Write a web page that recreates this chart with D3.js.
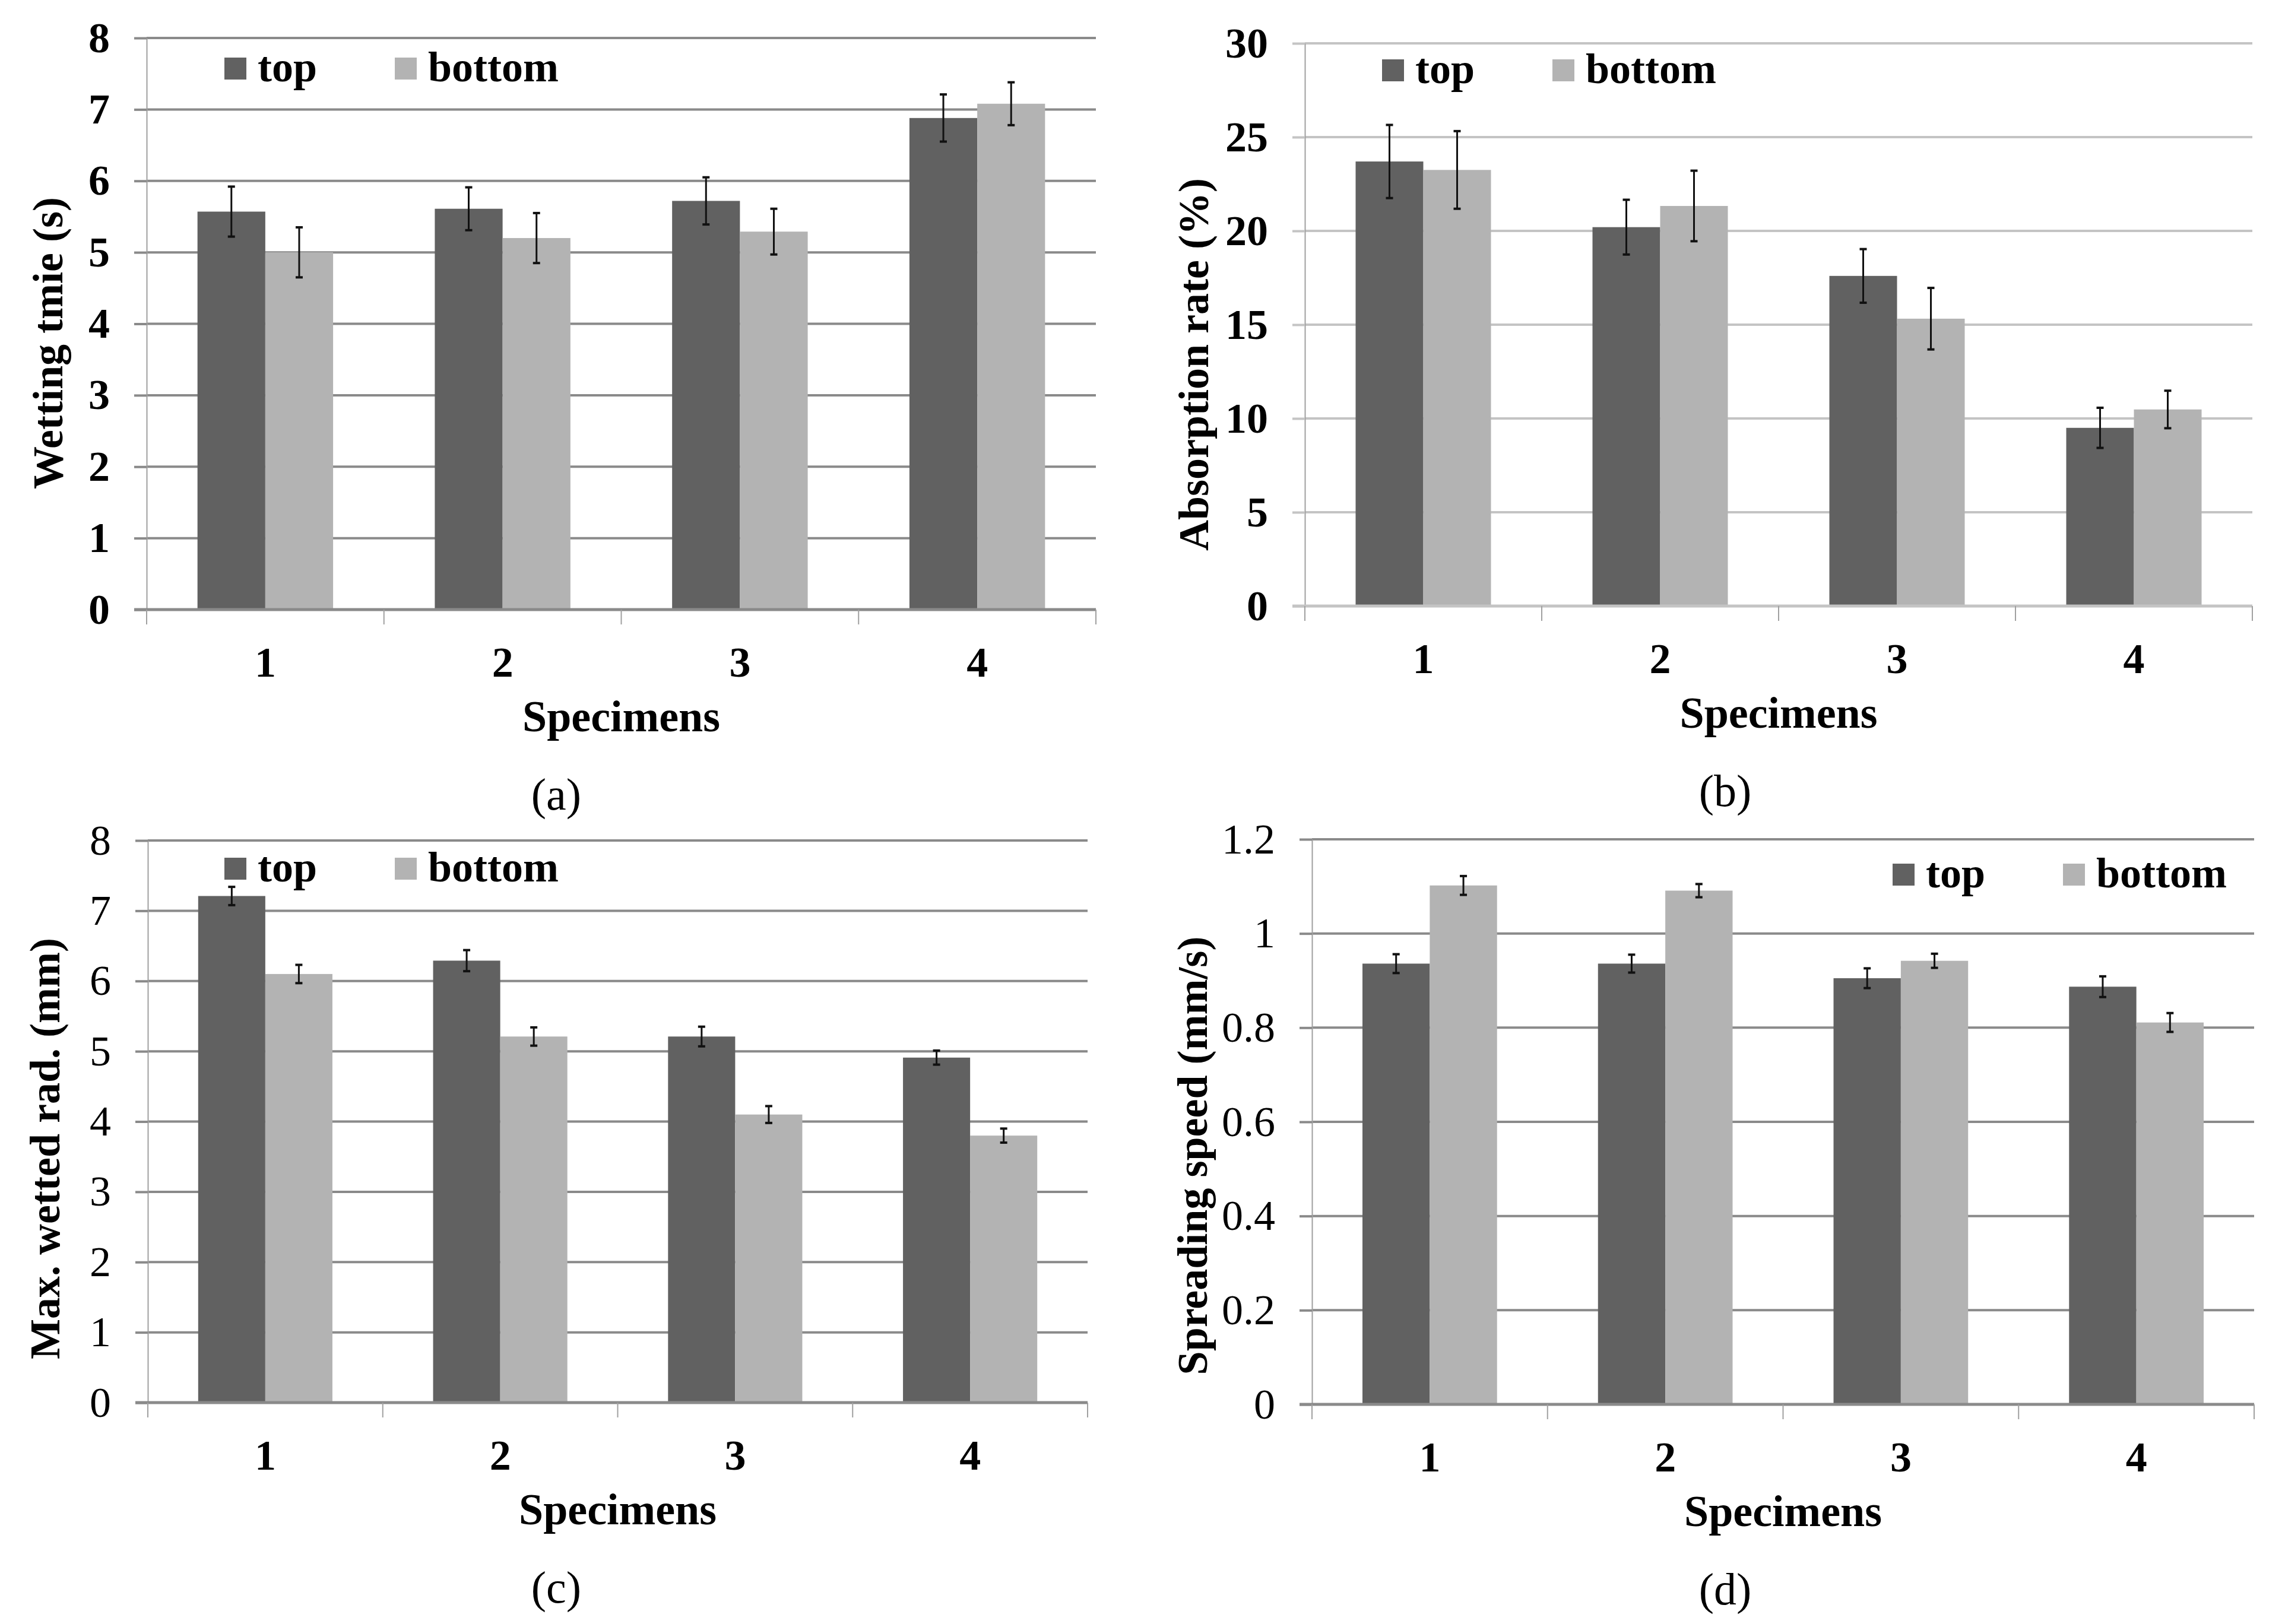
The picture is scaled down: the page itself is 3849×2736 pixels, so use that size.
<!DOCTYPE html>
<html lang="en">
<head>
    <meta charset="UTF-8">
    <title>Wetting properties</title>
    <script src="https://d3js.org/d3.v7.min.js"></script>
    <style>
        body { margin: 0; background: #fff; }
        text { font-family: "Liberation Serif", "Times New Roman", serif; fill: #000; }
    </style>
</head>
<body>
    <div id="chart"></div>

    <script>
        // data
        const categories = ["1", "2", "3", "4"];
        const series = ["top", "bottom"];

        const wetTop = [5.57, 5.61, 5.72, 6.88];
        const wetTopErr = [0.35, 0.30, 0.33, 0.33];
        const wetBottom = [5.00, 5.20, 5.29, 7.08];
        const wetBottomErr = [0.35, 0.35, 0.32, 0.30];
        const wetTicks = [0, 1, 2, 3, 4, 5, 6, 7, 8];

        const absTop = [23.7, 20.2, 17.6, 9.5];
        const absTopErr = [1.95, 1.46, 1.43, 1.07];
        const absBottom = [23.25, 21.33, 15.32, 10.48];
        const absBottomErr = [2.07, 1.88, 1.64, 1.0];
        const absTicks = [0, 5, 10, 15, 20, 25, 30];

        const radTop = [7.21, 6.29, 5.21, 4.91];
        const radTopErr = [0.13, 0.15, 0.14, 0.10];
        const radBottom = [6.10, 5.21, 4.10, 3.80];
        const radBottomErr = [0.13, 0.13, 0.12, 0.10];
        const radTicks = [0, 1, 2, 3, 4, 5, 6, 7, 8];

        const spdTop = [0.936, 0.936, 0.905, 0.887];
        const spdTopErr = [0.020, 0.019, 0.021, 0.022];
        const spdBottom = [1.102, 1.091, 0.942, 0.811];
        const spdBottomErr = [0.020, 0.014, 0.015, 0.020];
        const spdTicks = [0, 0.2, 0.4, 0.6, 0.8, 1, 1.2];
        const spdTickLabels = ["0", "0.2", "0.4", "0.6", "0.8", "1", "1.2"];

        const colors = { top: "#616161", bottom: "#b3b3b3" };

        const W = 3849, H = 2736;
        const svg = d3.select("#chart")
            .append("svg")
            .attr("width", W)
            .attr("height", H);

        const panels = [
            { top: wetTop, topErr: wetTopErr, bottom: wetBottom, bottomErr: wetBottomErr,
              ticks: wetTicks, fmt: d => d, yTitle: "Wetting tmie (s)", tag: "(a)",
              left: 247, right: 1846, yTop: 64, yZero: 1027, tickBold: true, grid: "#8a8a8a",
              titleX: 80, titleY: 578, legX: 378, legY: 97, tagX: 937 },
            { top: absTop, topErr: absTopErr, bottom: absBottom, bottomErr: absBottomErr,
              ticks: absTicks, fmt: d => d, yTitle: "Absorption rate (%)", tag: "(b)",
              left: 2198, right: 3794, yTop: 73, yZero: 1021, tickBold: true, grid: "#c4c4c4",
              titleX: 2010, titleY: 614, legX: 2328, legY: 100, tagX: 2906 },
            { top: radTop, topErr: radTopErr, bottom: radBottom, bottomErr: radBottomErr,
              ticks: radTicks, fmt: d => d, yTitle: "Max. wetted rad. (mm)", tag: "(c)",
              left: 249, right: 1832, yTop: 1416, yZero: 2363, tickBold: false, grid: "#8a8a8a",
              titleX: 75, titleY: 1935, legX: 378, legY: 1445, tagX: 937 },
            { top: spdTop, topErr: spdTopErr, bottom: spdBottom, bottomErr: spdBottomErr,
              ticks: spdTicks, fmt: (d, i) => spdTickLabels[i], yTitle: "Spreading speed (mm/s)", tag: "(d)",
              left: 2210, right: 3797, yTop: 1414, yZero: 2366, tickBold: false, grid: "#8a8a8a",
              titleX: 2008, titleY: 1947, legX: 3188, legY: 1455, tagX: 2906 }
        ];

        panels.forEach(drawPanel);

        function drawPanel(p) {
            const g = svg.append("g");

            const x0 = d3.scaleBand()
                .domain(categories)
                .range([p.left, p.right])
                .padding(0);

            // Excel style: gap width 150%
            const x1 = d3.scaleBand()
                .domain(series)
                .range([0, x0.bandwidth()])
                .paddingInner(0)
                .paddingOuter(0.75);

            const y = d3.scaleLinear()
                .domain([0, d3.max(p.ticks)])
                .range([p.yZero, p.yTop]);

            // gridlines
            g.selectAll(".grid")
                .data(p.ticks.slice(1))
                .join("line")
                .attr("x1", p.left)
                .attr("x2", p.right)
                .attr("y1", d => y(d))
                .attr("y2", d => y(d))
                .attr("stroke", p.grid)
                .attr("stroke-width", 4);

            // y axis
            const yAxis = g.append("g")
                .attr("transform", `translate(${p.left},0)`)
                .call(d3.axisLeft(y)
                    .tickValues(p.ticks)
                    .tickSize(21)
                    .tickSizeOuter(0)
                    .tickPadding(41)
                    .tickFormat(p.fmt));
            yAxis.select(".domain").attr("stroke", "#a0a0a0").attr("stroke-width", 2);
            yAxis.selectAll(".tick line").attr("stroke", p.grid).attr("stroke-width", 4);
            yAxis.selectAll(".tick text")
                .attr("font-size", 72)
                .attr("font-weight", p.tickBold ? "bold" : "normal")
                .attr("font-family", '"Liberation Serif", "Times New Roman", serif')
                .attr("fill", "#000");

            // bars
            const rows = categories.map((c, i) => ({ c, i }));
            const groups = g.selectAll(".cat")
                .data(rows)
                .join("g")
                .attr("transform", d => `translate(${x0(d.c)},0)`);

            const bars = groups.selectAll("g.bar")
                .data(d => series.map(s => ({
                    s,
                    v: p[s][d.i],
                    e: p[s + "Err"][d.i]
                })))
                .join("g")
                .attr("class", "bar");

            bars.append("rect")
                .attr("x", d => x1(d.s))
                .attr("width", x1.bandwidth())
                .attr("y", d => y(d.v))
                .attr("height", d => y(0) - y(d.v))
                .attr("fill", d => colors[d.s]);

            // error bars
            const cx = d => x1(d.s) + x1.bandwidth() / 2;
            bars.append("line")
                .attr("x1", cx).attr("x2", cx)
                .attr("y1", d => y(d.v - d.e))
                .attr("y2", d => y(d.v + d.e))
                .attr("stroke", "#111")
                .attr("stroke-width", 3);
            [-1, 1].forEach(sign => {
                bars.append("line")
                    .attr("x1", d => cx(d) - 6).attr("x2", d => cx(d) + 6)
                    .attr("y1", d => y(d.v + sign * d.e))
                    .attr("y2", d => y(d.v + sign * d.e))
                    .attr("stroke", "#111")
                    .attr("stroke-width", 4);
            });

            // x axis line and category ticks
            g.append("line")
                .attr("x1", p.left - 21).attr("x2", p.right)
                .attr("y1", y(0)).attr("y2", y(0))
                .attr("stroke", p.grid)
                .attr("stroke-width", 5);

            g.selectAll(".xtick")
                .data(categories.map(c => x0(c)).concat([p.right]))
                .join("line")
                .attr("x1", d => d).attr("x2", d => d)
                .attr("y1", y(0)).attr("y2", y(0) + 25)
                .attr("stroke", "#a0a0a0")
                .attr("stroke-width", 2);

            g.selectAll(".xlabel")
                .data(categories)
                .join("text")
                .attr("x", d => x0(d) + x0.bandwidth() / 2)
                .attr("y", y(0) + 113)
                .attr("text-anchor", "middle")
                .attr("font-size", 72)
                .attr("font-weight", "bold")
                .text(d => d);

            g.append("text")
                .attr("x", (p.left + p.right) / 2)
                .attr("y", y(0) + 205)
                .attr("text-anchor", "middle")
                .attr("font-size", 74)
                .attr("font-weight", "bold")
                .text("Specimens");

            g.append("text")
                .attr("transform", `translate(${p.titleX},${p.titleY}) rotate(-90)`)
                .attr("dy", "0.35em")
                .attr("text-anchor", "middle")
                .attr("font-size", 72)
                .attr("font-weight", "bold")
                .text(p.yTitle);

            // panel tag
            g.append("text")
                .attr("x", p.tagX)
                .attr("y", y(0) + 337)
                .attr("text-anchor", "middle")
                .attr("font-size", 76)
                .text(p.tag);

            // legend
            const leg = g.selectAll(".leg")
                .data(series)
                .join("g")
                .attr("transform", (d, i) => `translate(${p.legX + i * 287},${p.legY})`);
            leg.append("rect")
                .attr("width", 37)
                .attr("height", 37)
                .attr("fill", d => colors[d]);
            leg.append("text")
                .attr("x", 56)
                .attr("y", 40)
                .attr("font-size", 72)
                .attr("font-weight", "bold")
                .text(d => d);
        }
    </script>
</body>
</html>
